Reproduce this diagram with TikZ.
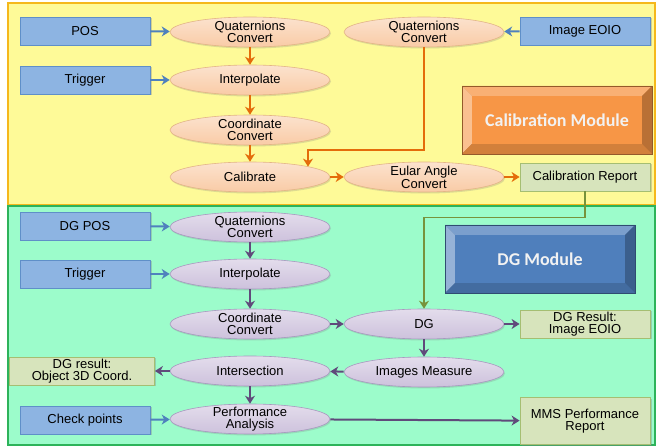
\documentclass[tikz,border=0pt]{standalone}
\usepackage{fontspec}
\setmainfont{Liberation Sans}
\newfontfamily\modfont{Carlito}
\usetikzlibrary{arrows.meta,positioning,shapes.geometric,shadows}
\definecolor{Lemon}{HTML}{FEFA98}
\definecolor{Gold}{HTML}{F5B81C}
\definecolor{Mint}{HTML}{9CFCCB}
\definecolor{Leaf}{HTML}{2DB35A}
\definecolor{Sky}{HTML}{8DB4E2}
\definecolor{SkyEdge}{HTML}{5F8FC8}
\definecolor{Sage}{HTML}{D7E4BC}
\definecolor{SageEdge}{HTML}{A5BE72}
\definecolor{Peach}{HTML}{F9CBA6}
\definecolor{PeachEdge}{HTML}{E3B487}
\definecolor{Lilac}{HTML}{CDC1DC}
\definecolor{LilacEdge}{HTML}{A897BF}
\definecolor{Pumpkin}{HTML}{E46C0A}
\definecolor{Plum}{HTML}{604A7B}
\definecolor{Steel}{HTML}{4F81BD}
\definecolor{Olive}{HTML}{77933C}
\definecolor{Amber}{HTML}{F79646}
\definecolor{Navy}{HTML}{4F7FBC}

\tikzset{
  txt/.style={font=\fontsize{13}{11.5}\selectfont, align=center, text=black},
  inbox/.style={txt, rectangle, draw=SkyEdge, fill=Sky, line width=0.8pt,
    minimum width=130pt, minimum height=28pt, inner sep=0pt,
    drop shadow={opacity=0.35, shadow xshift=1.5pt, shadow yshift=-1.5pt}},
  outbox/.style={inbox, draw=SageEdge, fill=Sage},
  calstep/.style={txt, ellipse, draw=PeachEdge, line width=0.6pt,
    top color=Peach!55, bottom color=Peach, minimum width=160pt,
    minimum height=30pt, inner xsep=0pt, inner ysep=-2pt,
    drop shadow={opacity=0.25, shadow xshift=1pt, shadow yshift=-1.5pt}},
  dgstep/.style={calstep, draw=LilacEdge, top color=Lilac!55, bottom color=Lilac},
  oarr/.style={Pumpkin, line width=2pt, -{Stealth[length=8pt, width=10pt, inset=2.5pt]}},
  parr/.style={oarr, Plum},
  barr/.style={oarr, Steel},
  garr/.style={oarr, Olive},
  modtext/.style={font=\modfont\bfseries\fontsize{18}{20}\selectfont, text=white!95!black}
}

% bevelled module plate: name, x, y, colour, text
\newcommand{\modplate}[5]{
  \begin{scope}[shift={(#2,#3)}]
    \fill[#4!70!black] (-95,-34) rectangle (95,34);
    \fill[#4!75!white] (-95,-34) -- (95,-34) -- (85,-24) -- (-85,-24) -- cycle;
    \fill[#4!60!white] (-95,-34) -- (-85,-24) -- (-85,24) -- (-95,34) -- cycle;
    \fill[#4!75!black] (95,-34) -- (95,34) -- (85,24) -- (85,-24) -- cycle;
    \fill[#4!85!black] (-95,34) -- (95,34) -- (85,24) -- (-85,24) -- cycle;
    \fill[#4] (-85,-24) rectangle (85,24);
    \draw[#4!60!black, line width=0.5pt] (-95,-34) rectangle (95,34);
  \end{scope}
  \node[modtext] (#1) at (#2,#3) {#5};
}

\begin{document}
\begin{tikzpicture}[x=1pt, y=-1pt]
    \useasboundingbox (0,0) rectangle (657,446);
    % the two panels
    \draw[fill=Lemon, draw=Gold, line width=1.5pt] (8,3) rectangle (655,205);
    \draw[fill=Mint, draw=Leaf, line width=1.5pt] (8,206) rectangle (655,445);

    % calibration part
    \node[inbox] (pos) at (85,31) {POS};
    \node[inbox] (trig1) at (85,80) {Trigger};
    \node[calstep] (quat1) at (250,32) {Quaternions\\Convert};
    \node[calstep] (interp1) at (250,80) {Interpolate};
    \node[calstep] (coord1) at (250,130) {Coordinate\\Convert};
    \node[calstep] (calib) at (250,177) {Calibrate};
    \node[calstep] (quat2) at (424,32) {Quaternions\\Convert};
    \node[calstep] (euler) at (424,177) {Eular Angle\\Convert};
    \node[inbox] (eoio) at (585,31) {Image EOIO};
    \node[outbox] (calrep) at (585,177) {Calibration Report};
    \modplate{calmod}{557}{120}{Amber}{Calibration Module}

    \draw[barr] (pos) -- (quat1);
    \draw[barr] (trig1) -- (interp1);
    \draw[barr] (eoio) -- (quat2);
    \draw[oarr] (quat1) -- (interp1);
    \draw[oarr] (interp1) -- (coord1);
    \draw[oarr] (coord1) -- (calib);
    \draw[oarr] (calib) -- (euler);
    \draw[oarr] (euler) -- (calrep);
    \coordinate (bend1) at (308,150);
    \draw[oarr, line width=1.6pt] (quat2.south) |- (bend1) -- (bend1 |- calib.10);

    % direct georeferencing part
    \node[inbox] (dgpos) at (85,226) {DG POS};
    \node[inbox] (trig2) at (85,274) {Trigger};
    \node[outbox, minimum width=145pt] (objres) at (82,371) {DG result:\\Object 3D Coord.};
    \node[inbox] (check) at (85,420) {Check points};
    \node[dgstep] (quat3) at (250,227) {Quaternions\\Convert};
    \node[dgstep] (interp2) at (250,274) {Interpolate};
    \node[dgstep] (coord2) at (250,324) {Coordinate\\Convert};
    \node[dgstep] (inter) at (250,371) {Intersection};
    \node[dgstep] (perf) at (250,419) {Performance\\Analysis};
    \node[dgstep] (dg) at (424,324) {DG};
    \node[dgstep] (meas) at (424,372) {Images Measure};
    \node[outbox] (dgres) at (585,324) {DG Result:\\Image EOIO};
    \node[outbox, minimum height=47pt] (mms) at (585,421) {MMS Performance\\Report};
    \modplate{dgmod}{540}{259}{Navy}{DG Module}

    \draw[barr] (dgpos) -- (quat3);
    \draw[barr] (trig2) -- (interp2);
    \draw[barr] (check) -- (perf);
    \draw[parr] (quat3) -- (interp2);
    \draw[parr] (interp2) -- (coord2);
    \draw[parr] (coord2) -- (dg);
    \draw[parr] (dg) -- (dgres);
    \draw[parr] (dg) -- (meas);
    \draw[parr] (meas) -- (inter);
    \draw[parr] (inter) -- (objres);
    \draw[parr] (inter) -- (perf);
    \draw[parr] (perf) -- (mms);
    \draw[garr, line width=1.6pt] (calrep.south) -- ++(0,26) -| (dg.north);
  \end{tikzpicture}
\end{document}
